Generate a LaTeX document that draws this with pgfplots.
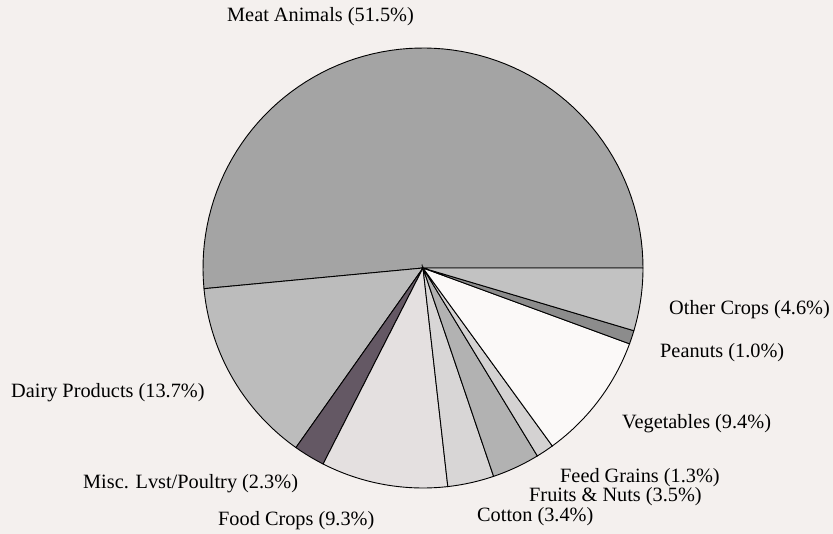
\documentclass[border=0pt]{standalone}
\usepackage{pgfplots}
\pgfplotsset{compat=1.18}
\usepackage{fontspec}
\setmainfont{Liberation Serif}
\definecolor{bg}{RGB}{244,240,238}
\definecolor{cMeat}{RGB}{164,164,164}
\definecolor{cDairy}{RGB}{188,188,188}
\definecolor{cMisc}{RGB}{100,88,100}
\definecolor{cFood}{RGB}{228,224,224}
\definecolor{cCotton}{RGB}{216,214,214}
\definecolor{cFruit}{RGB}{178,178,178}
\definecolor{cFeed}{RGB}{212,210,210}
\definecolor{cVeg}{RGB}{251,249,248}
\definecolor{cPea}{RGB}{140,140,140}
\definecolor{cOther}{RGB}{194,194,194}
% shares (percent): Meat 51.5, Dairy 13.7, Misc 2.3, Food 9.3, Cotton 3.4,
% Fruits 3.5, Feed 1.3, Veg 9.4, Peanuts 1.0, Other 4.6  (x 3.6 deg)
\begin{document}
\begin{tikzpicture}
\begin{axis}[
  x=1pt, y=1pt, xmin=0, xmax=833, ymin=0, ymax=534,
  hide axis, clip=false, scale only axis,
  every axis plot/.append style={draw=black, line width=0.9pt, samples=80, variable=\t},
  nodes={font=\fontsize{20.3}{22}\selectfont, anchor=west, inner sep=0pt}
]
\fill[bg] (axis cs:0,0) rectangle (axis cs:833,534);
\addplot[fill=cMeat,   domain=0:185.4]      ({423+220*cos(t)},{266+220*sin(t)}) -- (axis cs:423,266) -- cycle;
\addplot[fill=cDairy,  domain=185.4:234.72] ({423+220*cos(t)},{266+220*sin(t)}) -- (axis cs:423,266) -- cycle;
\addplot[fill=cMisc,   domain=234.72:243.0] ({423+220*cos(t)},{266+220*sin(t)}) -- (axis cs:423,266) -- cycle;
\addplot[fill=cFood,   domain=243.0:276.48] ({423+220*cos(t)},{266+220*sin(t)}) -- (axis cs:423,266) -- cycle;
\addplot[fill=cCotton, domain=276.48:288.72] ({423+220*cos(t)},{266+220*sin(t)}) -- (axis cs:423,266) -- cycle;
\addplot[fill=cFruit,  domain=288.72:301.32] ({423+220*cos(t)},{266+220*sin(t)}) -- (axis cs:423,266) -- cycle;
\addplot[fill=cFeed,   domain=301.32:306.0] ({423+220*cos(t)},{266+220*sin(t)}) -- (axis cs:423,266) -- cycle;
\addplot[fill=cVeg,    domain=306.0:339.84] ({423+220*cos(t)},{266+220*sin(t)}) -- (axis cs:423,266) -- cycle;
\addplot[fill=cPea,    domain=339.84:343.44] ({423+220*cos(t)},{266+220*sin(t)}) -- (axis cs:423,266) -- cycle;
\addplot[fill=cOther,  domain=343.44:360]   ({423+220*cos(t)},{266+220*sin(t)}) -- (axis cs:423,266) -- cycle;
\node at (axis cs:227,517) {Meat Animals (51.5\%)};
\node at (axis cs:669,224) {Other Crops (4.6\%)};
\node at (axis cs:660,181) {Peanuts (1.0\%)};
\node at (axis cs:622,110) {Vegetables (9.4\%)};
\node at (axis cs:560,56) {Feed Grains (1.3\%)};
\node at (axis cs:529,37) {Fruits \& Nuts (3.5\%)};
\node at (axis cs:477,17) {Cotton (3.4\%)};
\node at (axis cs:218,13) {Food Crops (9.3\%)};
\node at (axis cs:83,50) {Misc. Lvst/Poultry (2.3\%)};
\node at (axis cs:11,141) {Dairy Products (13.7\%)};
\end{axis}
\end{tikzpicture}
\end{document}
